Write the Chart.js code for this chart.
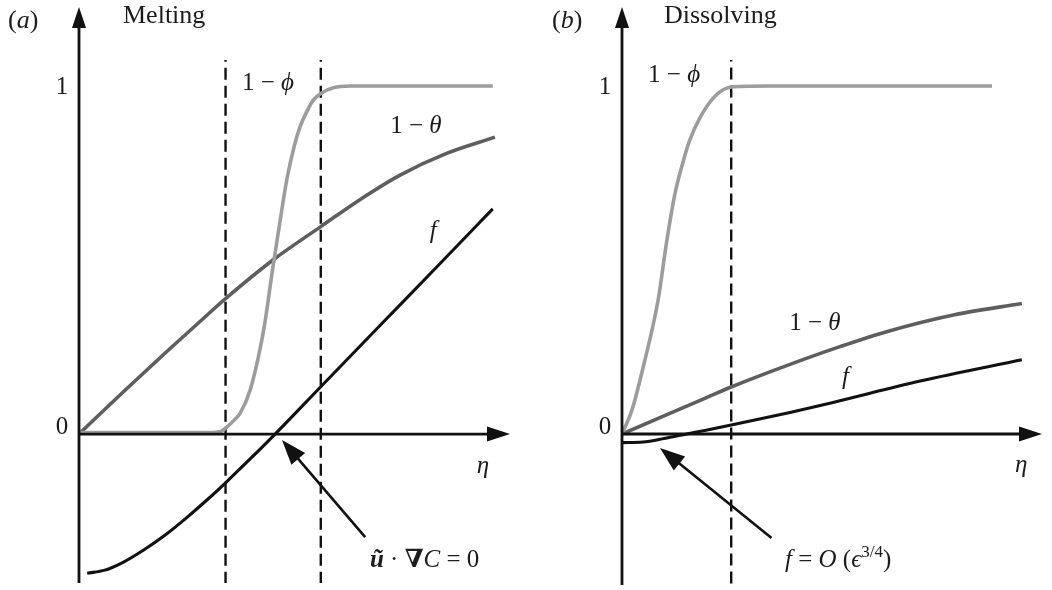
<!DOCTYPE html>
<html>
<head>
<meta charset="utf-8">
<title>Melting / Dissolving</title>
<script src="https://cdn.jsdelivr.net/npm/chart.js@4/dist/chart.umd.min.js"></script>
<style>
    html, body { margin: 0; padding: 0; background: #fff; }
    #wrap { position: relative; width: 1052px; height: 590px; overflow: hidden; }
    .panel { position: absolute; top: 0; height: 590px; }
    #panelA { left: 0; width: 520px; }
    #panelB { left: 520px; width: 532px; }
</style>
</head>
<body>
<div id="wrap">
    <div class="panel" id="panelA"><canvas id="chartA" width="520" height="590"></canvas></div>
    <div class="panel" id="panelB"><canvas id="chartB" width="532" height="590"></canvas></div>
</div>
<script>
"use strict";

// (a) melting
const meltPhiEta = [0, 3.0, 3.3, 3.43, 3.6, 3.74, 3.97, 4.16, 4.3, 4.5, 4.65, 4.82, 5.0, 5.13, 5.3, 5.44, 5.63, 5.9, 6.3, 9.6];
const meltPhi = [0.004, 0.004, 0.008, 0.02, 0.04, 0.06, 0.126, 0.22, 0.31, 0.48, 0.6, 0.73, 0.83, 0.883, 0.93, 0.96, 0.98, 0.995, 1.0, 1.0];
const meltThetaEta = [0, 1, 2, 3, 3.4, 4.5, 5.61, 6.5, 7.45, 8.5, 9.65];
const meltTheta = [0, 0.118, 0.233, 0.345, 0.389, 0.5, 0.596, 0.672, 0.744, 0.805, 0.853];
const meltFEta = [0.19, 0.6, 1.0, 1.5, 2.0, 2.5, 3.0, 3.4, 4.0, 4.55, 5.61, 7.0, 8.3, 9.6];
const meltF = [-0.40, -0.391, -0.370, -0.333, -0.290, -0.240, -0.186, -0.140, -0.068, 0, 0.136, 0.314, 0.48, 0.647];
const meltFronts = [3.4, 5.61];

// (b) dissolving
const dissPhiEta = [0, 0.24, 0.5, 0.86, 1.06, 1.26, 1.45, 1.6, 1.86, 2.25, 2.64, 3.5, 8.81];
const dissPhi = [0, 0.07, 0.19, 0.385, 0.55, 0.69, 0.78, 0.84, 0.91, 0.975, 0.998, 1.0, 1.0];
const dissThetaEta = [0, 1, 2, 2.6, 4, 5.19, 6.3, 7.89, 9.52];
const dissTheta = [0, 0.052, 0.104, 0.135, 0.2, 0.251, 0.294, 0.342, 0.375];
const dissFEta = [0, 0.5, 1.0, 1.54, 2, 2.6, 4, 5, 7.1, 9.52];
const dissF = [-0.025, -0.023, -0.013, 0, 0.011, 0.026, 0.062, 0.09, 0.152, 0.213];
const dissFronts = [2.6];

const yTicks = [0, 1];
const yTickLabels = ['0', '1'];
const frontSpan = [-0.43, 1.075];

const FONT = '"Liberation Serif", "Times New Roman", "DejaVu Serif", serif';
const colPhi = '#9c9c9c';
const colTheta = '#5e5e5e';
const colF = '#111';

const pts = (xs, ys) => xs.map((x, i) => ({x: x, y: ys[i]}));

const curve = (label, xs, ys, color, width) => ({
    label: label,
    data: pts(xs, ys),
    borderColor: color,
    borderWidth: width,
    pointRadius: 0,
    cubicInterpolationMode: 'monotone',
    fill: false
});

const fronts = (list) => list.map((eta) => ({
    label: 'front',
    data: [{x: eta, y: frontSpan[0]}, {x: eta, y: frontSpan[1]}],
    borderColor: '#111',
    borderWidth: 2.4,
    borderDash: [12, 6],
    pointRadius: 0,
    tension: 0,
    fill: false
}));

// draws a sequence of differently styled text runs from a baseline point
function drawRuns(ctx, runs, x, y) {
    ctx.textBaseline = 'alphabetic';
    ctx.textAlign = 'left';
    runs.forEach((r) => {
        ctx.font = (r.style || '') + ' ' + (r.size || 25) + 'px ' + FONT;
        ctx.fillText(r.t, x, y + (r.dy || 0));
        x += ctx.measureText(r.t).width + (r.gap || 0);
    });
}

function arrowHead(ctx, x0, y0, x1, y1, len, half) {
    const a = Math.atan2(y1 - y0, x1 - x0);
    ctx.beginPath();
    ctx.moveTo(x1, y1);
    ctx.lineTo(x1 - len * Math.cos(a) + half * Math.sin(a), y1 - len * Math.sin(a) - half * Math.cos(a));
    ctx.lineTo(x1 - len * Math.cos(a) - half * Math.sin(a), y1 - len * Math.sin(a) + half * Math.cos(a));
    ctx.closePath();
    ctx.fill();
}

// axes with arrow tips, tick labels, curve names and the pointer arrow
const decorPlugin = {
    id: 'decor',
    afterDatasetsDraw: function (chart, args, opts) {
        const ctx = chart.ctx;
        const xs = chart.scales.x;
        const ys = chart.scales.y;
        const x0 = xs.getPixelForValue(0);
        const y0 = ys.getPixelForValue(0);
        const top = chart.chartArea.top;
        const bottom = chart.chartArea.bottom;
        const right = chart.chartArea.right;

        ctx.save();
        ctx.strokeStyle = '#111';
        ctx.fillStyle = '#111';
        ctx.lineWidth = 2.8;

        ctx.beginPath();
        ctx.moveTo(x0, bottom);
        ctx.lineTo(x0, top + 12);
        ctx.moveTo(x0, y0);
        ctx.lineTo(right - 12, y0);
        ctx.stroke();
        arrowHead(ctx, x0, bottom, x0, top, 21, 7);
        arrowHead(ctx, x0, y0, right, y0, 23, 7.5);

        ctx.fillStyle = '#1c1c1c';
        ctx.font = '25px ' + FONT;
        ctx.textAlign = 'center';
        ctx.textBaseline = 'alphabetic';
        yTicks.forEach((v, i) => {
            ctx.fillText(yTickLabels[i], x0 - 17, ys.getPixelForValue(v) + (v === 0 ? 0 : 8));
        });

        opts.labels.forEach((l) => {
            drawRuns(ctx, l.runs, xs.getPixelForValue(l.eta), ys.getPixelForValue(l.v));
        });

        const p = opts.pointer;
        const ax = xs.getPixelForValue(p.from[0]);
        const ay = ys.getPixelForValue(p.from[1]);
        const bx = xs.getPixelForValue(p.to[0]);
        const by = ys.getPixelForValue(p.to[1]);
        ctx.strokeStyle = '#111';
        ctx.fillStyle = '#111';
        ctx.lineWidth = 2.6;
        ctx.beginPath();
        ctx.moveTo(ax, ay);
        const a = Math.atan2(by - ay, bx - ax);
        ctx.lineTo(bx - 15 * Math.cos(a), by - 15 * Math.sin(a));
        ctx.stroke();
        arrowHead(ctx, ax, ay, bx, by, 25, 9);
        ctx.restore();
    }
};

function makePanel(canvasId, datasets, padding, yRange, labels, pointer) {
    return new Chart(document.getElementById(canvasId), {
        type: 'line',
        data: {datasets: datasets},
        options: {
            responsive: false,
            devicePixelRatio: 1,
            animation: false,
            layout: {padding: padding},
            scales: {
                x: {type: 'linear', display: false, min: 0, max: 10},
                y: {type: 'linear', display: false, min: yRange[0], max: yRange[1]}
            },
            plugins: {
                legend: {display: false},
                tooltip: {enabled: false},
                decor: {labels: labels, pointer: pointer}
            }
        },
        plugins: [decorPlugin]
    });
}

const it = (t) => ({t: t, style: 'italic'});
const up = (t) => ({t: t});
const big = (t, style) => ({t: t, style: style || '', size: 26});

makePanel('chartA', [
    curve('1 − ϕ', meltPhiEta, meltPhi, colPhi, 3.6),
    curve('1 − θ', meltThetaEta, meltTheta, colTheta, 3.6),
    curve('f', meltFEta, meltF, colF, 3.1),
    ...fronts(meltFronts)
], {left: 79, right: 10, top: 7, bottom: 7}, [-0.428, 1.227], [
    {eta: -1.647, v: 1.167, runs: [big('('), big('a', 'italic'), big(')')]},
    {eta: 1.021, v: 1.181, runs: [big('Melting')]},
    {eta: 3.78, v: 0.989, runs: [up('1 − '), it('ϕ')]},
    {eta: 7.22, v: 0.865, runs: [up('1 − '), it('θ')]},
    {eta: 8.14, v: 0.563, runs: [it('f')]},
    {eta: 9.23, v: -0.112, runs: [it('η')]},
    {eta: 6.75, v: -0.382, runs: [{t: 'ũ', style: 'italic bold'}, up(' · '), {t: '∇', style: 'bold'}, it('C'), up(' = 0')]}
], {from: [6.64, -0.296], to: [4.71, -0.017]});

makePanel('chartB', [
    curve('1 − ϕ', dissPhiEta, dissPhi, colPhi, 3.6),
    curve('1 − θ', dissThetaEta, dissTheta, colTheta, 3.6),
    curve('f', dissFEta, dissF, colF, 3.1),
    ...fronts(dissFronts)
], {left: 102, right: 10, top: 7, bottom: 5}, [-0.434, 1.227], [
    {eta: -1.667, v: 1.167, runs: [big('('), big('b', 'italic'), big(')')]},
    {eta: 1.0, v: 1.181, runs: [big('Dissolving')]},
    {eta: 0.62, v: 1.011, runs: [up('1 − '), it('ϕ')]},
    {eta: 3.98, v: 0.299, runs: [up('1 − '), it('θ')]},
    {eta: 5.24, v: 0.144, runs: [it('f')]},
    {eta: 9.36, v: -0.109, runs: [it('η')]},
    {eta: 3.88, v: -0.382, runs: [it('f'), up(' = '), it('O'), up(' ('), it('ϵ'), {t: '3/4', size: 17, dy: -10}, up(')')]}
], {from: [3.56, -0.299], to: [0.905, -0.04]});
</script>
</body>
</html>
